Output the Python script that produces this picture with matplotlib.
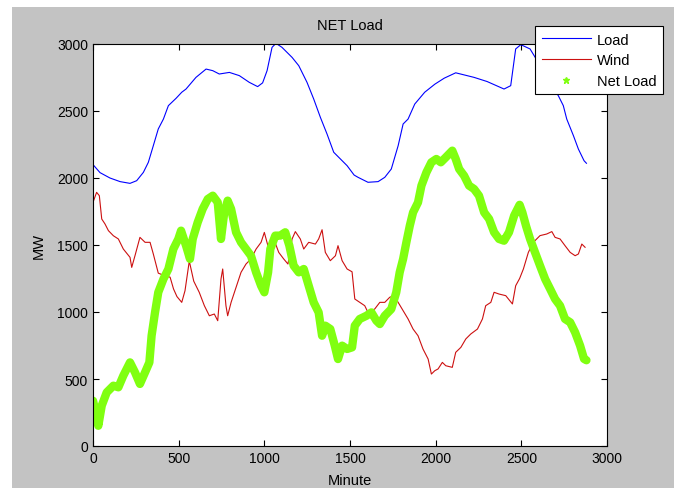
import matplotlib.pyplot as plt
from matplotlib.lines import Line2D
from matplotlib.patches import Rectangle

# values (minute, MW)
load_min = [0, 41, 99, 158, 216, 255, 294, 323, 352, 381, 411, 440, 485, 518, 543, 601,
            660, 699, 737, 796, 854, 912, 961, 990, 1016, 1045, 1068, 1103, 1162, 1201,
            1249, 1288, 1327, 1366, 1405, 1444, 1483, 1524, 1547, 1605, 1664, 1703, 1741,
            1781, 1810, 1839, 1878, 1936, 1995, 2050, 2117, 2224, 2300, 2399, 2438, 2467,
            2497, 2551, 2600, 2650, 2716, 2745, 2765, 2804, 2833, 2866, 2880]
load_mw = [2100, 2040, 2000, 1973, 1960, 1980, 2042, 2117, 2241, 2366, 2440, 2540, 2595,
           2640, 2664, 2751, 2813, 2801, 2776, 2788, 2764, 2714, 2682, 2710, 2801, 2975,
           3005, 2975, 2900, 2838, 2714, 2590, 2453, 2328, 2192, 2142, 2092, 2022, 2005,
           1968, 1973, 2005, 2067, 2241, 2403, 2440, 2552, 2640, 2700, 2745, 2785, 2751,
           2720, 2664, 2689, 2963, 2995, 2963, 2860, 2740, 2614, 2540, 2440, 2316, 2216,
           2129, 2110]

wind_min = [0, 21, 37, 51, 70, 90, 119, 148, 177, 216, 226, 245, 274, 304, 333, 352, 381,
            420, 450, 470, 490, 518, 537, 562, 588, 620, 650, 679, 708, 728, 747, 757, 776,
            786, 806, 835, 864, 893, 922, 952, 981, 1000, 1026, 1055, 1084, 1113, 1138,
            1162, 1181, 1210, 1230, 1259, 1298, 1317, 1337, 1356, 1385, 1415, 1430, 1454,
            1483, 1512, 1528, 1557, 1586, 1605, 1625, 1644, 1674, 1703, 1732, 1757, 1781,
            1810, 1839, 1868, 1897, 1926, 1956, 1975, 1995, 2014, 2039, 2059, 2097, 2117,
            2147, 2176, 2205, 2244, 2273, 2292, 2322, 2341, 2370, 2409, 2448, 2467, 2490,
            2512, 2541, 2570, 2609, 2648, 2678, 2697, 2726, 2755, 2785, 2814, 2833, 2853,
            2872]
wind_mw = [1818, 1893, 1868, 1694, 1657, 1607, 1569, 1545, 1470, 1408, 1333, 1420, 1557,
           1520, 1520, 1433, 1290, 1270, 1260, 1172, 1115, 1072, 1159, 1380, 1230, 1147,
           1047, 972, 985, 935, 1246, 1321, 1047, 972, 1072, 1184, 1296, 1358, 1396, 1470,
           1520, 1594, 1470, 1545, 1445, 1396, 1358, 1545, 1600, 1545, 1470, 1520, 1507,
           1545, 1614, 1445, 1383, 1420, 1495, 1383, 1321, 1300, 1097, 1072, 1047, 997,
           1010, 1022, 1072, 1072, 1110, 1122, 1072, 1010, 948, 873, 823, 724, 649, 537,
           562, 575, 624, 599, 587, 699, 736, 799, 836, 873, 948, 1047, 1072, 1147, 1134,
           1122, 1060, 1196, 1250, 1321, 1445, 1520, 1570, 1582, 1600, 1557, 1545, 1495,
           1445, 1420, 1433, 1507, 1483]

net_min = [0, 21, 31, 51, 80, 119, 148, 177, 216, 245, 274, 304, 329, 342, 362, 381, 411,
           440, 469, 498, 514, 543, 566, 582, 611, 640, 670, 699, 728, 747, 766, 786, 806,
           835, 864, 893, 922, 952, 981, 1000, 1022, 1035, 1064, 1093, 1122, 1146, 1171,
           1201, 1230, 1259, 1288, 1317, 1337, 1356, 1385, 1411, 1430, 1454, 1483, 1512,
           1528, 1557, 1596, 1625, 1654, 1674, 1703, 1741, 1770, 1790, 1810, 1829, 1849,
           1868, 1897, 1917, 1946, 1975, 2004, 2030, 2059, 2097, 2117, 2137, 2166, 2195,
           2224, 2253, 2283, 2312, 2341, 2370, 2399, 2428, 2458, 2490, 2506, 2528, 2551,
           2580, 2609, 2639, 2668, 2697, 2726, 2755, 2785, 2814, 2843, 2866, 2880]
net_mw = [338, 226, 151, 301, 400, 450, 438, 525, 624, 550, 463, 550, 624, 823, 997, 1147,
          1246, 1321, 1470, 1545, 1607, 1495, 1396, 1545, 1669, 1769, 1843, 1868, 1818, 1545,
          1743, 1831, 1769, 1595, 1520, 1470, 1420, 1296, 1196, 1147, 1296, 1470, 1570,
          1570, 1595, 1495, 1346, 1296, 1321, 1196, 1072, 997, 823, 898, 873, 749, 649, 749,
          724, 736, 898, 948, 972, 997, 935, 910, 972, 1022, 1147, 1296, 1396, 1520, 1644,
          1743, 1818, 1943, 2042, 2117, 2142, 2117, 2154, 2204, 2142, 2067, 2017, 1943,
          1918, 1868, 1743, 1694, 1595, 1545, 1532, 1595, 1719, 1800, 1743, 1640, 1545,
          1445, 1346, 1246, 1172, 1097, 1047, 948, 923, 848, 749, 650, 640]

ticks = [0, 500, 1000, 1500, 2000, 2500, 3000]

plt.rcParams['font.family'] = ['Liberation Sans', 'DejaVu Sans']

fig = plt.figure(figsize=(6.74, 4.89), dpi=100)
fig.patch.set_facecolor('white')
# grey window area (thin white strip at left/top like the screenshot)
fig.patches.append(Rectangle((12 / 674, 0), 1, 1 - 8 / 489, transform=fig.transFigure,
                             facecolor='#c3c3c3', edgecolor='none', zorder=-10))

ax = fig.add_axes([93 / 674, 1 - 447 / 489, 514 / 674, 402 / 489])
ax.set_facecolor('white')

ax.plot(load_min, load_mw, color='#0000ff', lw=0.8)
ax.plot(wind_min, wind_mw, color='#cc1010', lw=0.8)
ax.plot(net_min, net_mw, color='#80ff10', lw=6, solid_capstyle='round', solid_joinstyle='round')

ax.set_xlim(0, 3000)
ax.set_ylim(0, 3000)
ax.set_xticks(ticks)
ax.set_yticks(ticks)
ax.tick_params(direction='in', top=True, right=True, length=4, labelsize=10, width=0.8)
for s in ax.spines.values():
    s.set_linewidth(0.8)

ax.set_title('NET Load', fontsize=10.5, pad=11)
ax.set_xlabel('Minute', fontsize=10.5, labelpad=6)
ax.set_ylabel('MW', fontsize=10.5, labelpad=8)

handles = [Line2D([], [], color='#0000ff', lw=0.8),
           Line2D([], [], color='#cc1010', lw=0.8),
           Line2D([], [], color='#80ff10', marker='*', markersize=5, linestyle='None')]
leg = fig.legend(handles, ['Load', 'Wind', 'Net Load'], loc='upper left',
                 bbox_to_anchor=(535 / 674, 1 - 27 / 489), borderaxespad=0, fontsize=10.5,
                 fancybox=False, framealpha=1, edgecolor='black', handlelength=3.4,
                 handletextpad=0.4, borderpad=0.45, labelspacing=0.45)
leg.get_frame().set_linewidth(0.8)

fig.savefig('out.png', dpi=100)
